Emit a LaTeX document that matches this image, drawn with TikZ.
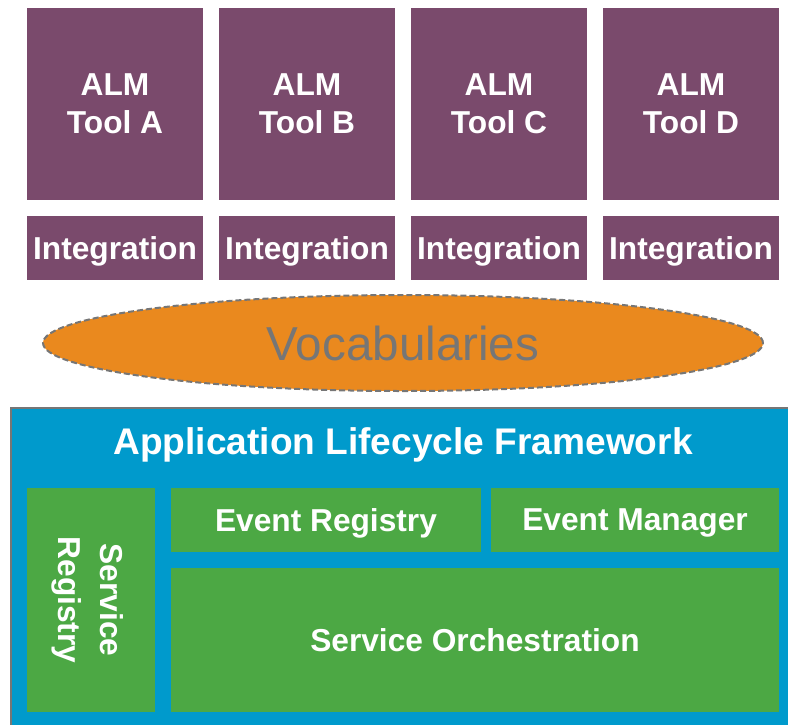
\documentclass[tikz,border=0pt]{standalone}
\usepackage{fontspec}
\setmainfont{Liberation Sans}
\usetikzlibrary{shapes.geometric}

\definecolor{toolpurple}{RGB}{122,74,108}
\definecolor{vocaborange}{RGB}{234,137,30}
\definecolor{frameblue}{RGB}{0,154,204}
\definecolor{partgreen}{RGB}{76,168,68}
\definecolor{textgray}{RGB}{118,118,118}

\tikzset{
  toolbox/.style={fill=toolpurple, text=white, align=center, inner sep=0pt, text depth=0pt,
    font=\bfseries\fontsize{31.7}{38}\selectfont, minimum width=176pt},
  partbox/.style={fill=partgreen, text=white, align=center, inner sep=0pt, text depth=0pt,
    font=\bfseries\fontsize{31.7}{41}\selectfont},
}

\begin{document}
\begin{tikzpicture}[x=1pt,y=-1pt]
\useasboundingbox (0,0) rectangle (788,724);

% tools and their integrations
\foreach \name/\cx in {A/115, B/307, C/499, D/691}{
  \node[toolbox, minimum height=192pt] (tool\name) at (\cx,104) {ALM\\Tool \name};
  \node[toolbox, minimum height=64pt] (integ\name) at (\cx,248) {Integration};
}

% vocabularies
\node[ellipse, fill=vocaborange, draw=textgray, line width=2pt, dash pattern=on 6pt off 3pt,
  minimum width=720pt, minimum height=96pt, inner sep=0pt,
  text=textgray, font=\fontsize{47.6}{50}\selectfont] (vocab) at (403,343) {Vocabularies};

% framework
\node[fill=frameblue, draw=textgray, line width=2pt, anchor=north west, inner sep=0pt,
  minimum width=800pt, minimum height=340pt] (framework) at (10,407) {};
\node[text=white, text depth=0pt, font=\bfseries\fontsize{37.1}{40}\selectfont] (title) at (403,441)
  {Application Lifecycle Framework};

\node[partbox, minimum width=128pt, minimum height=224pt] (svcreg) at (91,600) {};
\node[text=white, text depth=0pt, font=\bfseries\fontsize{31.7}{42}\selectfont, align=center,
  rotate=-90] (svcregtext) at (svcreg.center) {Service\\Registry};
\node[partbox, minimum width=310pt, minimum height=64pt] (evreg) at (326,520) {Event Registry};
\node[partbox, minimum width=288pt, minimum height=64pt] (evman) at (635,520) {Event Manager};
\node[partbox, minimum width=608pt, minimum height=144pt] (orch) at (475,640) {Service Orchestration};
\end{tikzpicture}
\end{document}
